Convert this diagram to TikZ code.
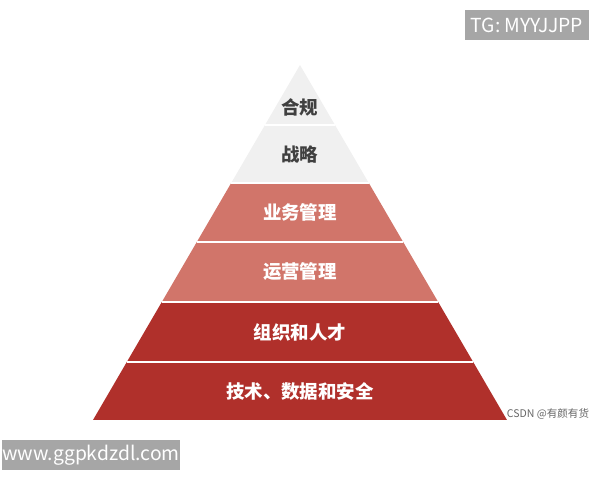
\documentclass[tikz,border=0pt]{standalone}
\usepackage{fontspec}
\setmainfont{Noto Sans CJK SC}
\usetikzlibrary{positioning}
\definecolor{lightlayer}{HTML}{F0F0F0}
\definecolor{midlayer}{HTML}{D1756A}
\definecolor{darklayer}{HTML}{B0302B}
\definecolor{tagbg}{HTML}{A6A6A6}
\begin{document}
\begin{tikzpicture}[x=0.02cm,y=-0.02cm,
  layer/.style={draw=white,line width=1.2pt},
  lbl/.style={font=\bfseries\fontsize{10.5}{12}\selectfont},
  tag/.style={fill=tagbg,text=white,inner sep=0pt,minimum height=0.6cm,font=\fontsize{11}{13}\selectfont}]
  \useasboundingbox (0,0) rectangle (600,480);
  % layers: top y / half width, bottom y / half width, colour, label, text colour
  \foreach \ya/\wa/\yb/\wb/\col/\txt/\tc/\nm in {
      65/0/125/35/lightlayer/合规/black!75/hg,
      125/35/183/68.8/lightlayer/战略/black!75/zl,
      183/68.8/242/103.2/midlayer/业务管理/white/yw,
      242/103.2/302/138.2/midlayer/运营管理/white/yy,
      302/138.2/362/173.2/darklayer/组织和人才/white/zz,
      362/173.2/420/207/darklayer/技术、数据和安全/white/js}{
    \fill[\col] (300-\wa,\ya) -- (300+\wa,\ya) -- (300+\wb,\yb) -- (300-\wb,\yb) -- cycle;
    \draw[layer] (300-\wa,\ya) -- (300+\wa,\ya);
    \node[lbl,text=\tc] (\nm) at (300,{(\ya+\yb)/2+(\ya==65?12:0)}) {\txt};
  }
  \node[tag,minimum width=2.5cm] (tg) at (527,25) {TG: MYYJJPP};
  \node[tag,minimum width=3.24cm] (web) at (91,455) {www.ggpkdzdl.com};
  \node[font=\fontsize{6}{7}\selectfont,text=black!60] (csdn) at (548,414) {CSDN @有颜有货};
\end{tikzpicture}
\end{document}
